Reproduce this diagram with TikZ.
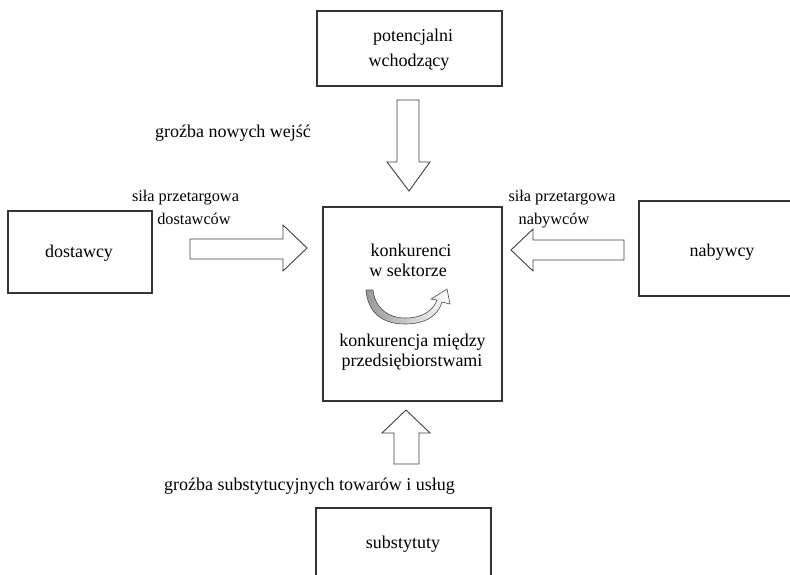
\documentclass[tikz,border=0pt]{standalone}
\usepackage{fontspec}
\setmainfont{Liberation Serif}
\begin{document}
\begin{tikzpicture}[x=1pt,y=-1pt,
  box/.style={draw=black!80,line width=1.2pt,rectangle,inner sep=0pt},
  maintext/.style={font=\fontsize{18}{21}\selectfont,text=black,inner sep=0pt,anchor=base},
  labeltext/.style={font=\fontsize{16.3}{19}\selectfont,text=black,inner sep=0pt,anchor=base},
  blockarrow/.style={draw=black!75,line width=0.9pt,fill=white,line join=miter}]
\useasboundingbox (0,0) rectangle (790,574);
\clip (0,0) rectangle (790,574);

% boxes of the five forces
\node[box,minimum width=185pt,minimum height=75pt] (entrants) at (409.5,48.5) {};
\node[box,minimum width=179pt,minimum height=194pt] (rivals) at (412.5,304) {};
\node[box,minimum width=144pt,minimum height=82pt] (suppliers) at (80,252) {};
\node[box,minimum width=170pt,minimum height=95pt] (buyers) at (724,248.5) {};
\node[box,minimum width=175pt,minimum height=100pt] (substitutes) at (403.5,558) {};

% texts inside the boxes
\node[maintext] (t1) at (413,41.7) {potencjalni};
\node[maintext] (t2) at (409,66) {wchodzący};
\node[maintext] (t3) at (79,257.5) {dostawcy};
\node[maintext] (t4) at (722,256) {nabywcy};
\node[maintext] (t5) at (411,256) {konkurenci};
\node[maintext] (t6) at (408,276.5) {w sektorze};
\node[maintext] (t7) at (412.5,346.5) {konkurencja między};
\node[maintext] (t8) at (412,366.5) {przedsiębiorstwami};
\node[maintext] (t9) at (403,548) {substytuty};

% labels of the forces
\node[maintext] (l1) at (233,137) {groźba nowych wejść};
\node[labeltext] (l2) at (185.5,201.5) {siła przetargowa};
\node[labeltext] (l3) at (194,224) {dostawców};
\node[labeltext] (l4) at (562,201.5) {siła przetargowa};
\node[labeltext] (l5) at (554,224) {nabywców};
\node[maintext] (l6) at (309.5,490.5) {groźba substytucyjnych towarów i usług};

% block arrows towards the central box
\draw[blockarrow] (397,100) -- (419,100) -- (419,162) -- (430,162) -- (409,191)
  -- (387,162) -- (397,162) -- cycle;
\draw[blockarrow] (394,464) -- (419,464) -- (419,433) -- (430,433) -- (406,410)
  -- (382,433) -- (394,433) -- cycle;
\draw[blockarrow] (190,239) -- (283,239) -- (283,225) -- (307,248) -- (283,271)
  -- (283,259) -- (190,259) -- cycle;
\draw[blockarrow] (624,240) -- (533,240) -- (533,229) -- (511,250) -- (533,271)
  -- (533,260) -- (624,260) -- cycle;

% curved arrow of rivalry
\draw[draw=black!70,line width=0.6pt,line join=miter,left color=black!40,right color=white]
  (366,290) .. controls (368,315) and (385,324) .. (405,324)
  .. controls (425,324) and (438,316) .. (442,302)
  -- (450,304) -- (447,289) -- (431,299) -- (437,300)
  .. controls (433,311) and (422,318) .. (405,318)
  .. controls (388,318) and (375,308) .. (373,290) -- cycle;
\end{tikzpicture}
\end{document}
